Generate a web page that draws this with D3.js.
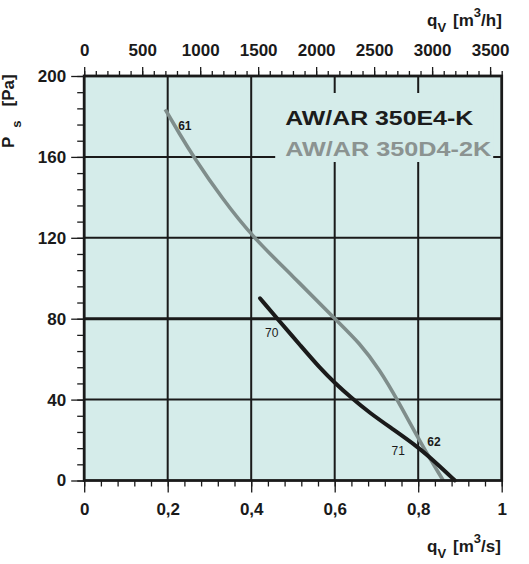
<!DOCTYPE html>
<html>
<head>
<meta charset="utf-8">
<script src="https://cdn.jsdelivr.net/npm/d3@7"></script>
<style>
    body { margin: 0; background: #fff; }
    text { font-family: "Liberation Sans", Arial, sans-serif; font-weight: bold; fill: #1a1a1a; }
</style>
</head>
<body>
<script>
// curve AW/AR 350E4-K (black)
let blackQ = [0.421, 0.465, 0.517, 0.565, 0.601, 0.637, 0.685, 0.740, 0.800, 0.844, 0.888];
let blackP = [90.1, 79.4, 67.0, 55.5, 48.1, 41.4, 33.2, 25.3, 16.5, 8.5, 0];

// curve AW/AR 350D4-2K (grey)
let greyQ = [0.194, 0.228, 0.262, 0.330, 0.405, 0.500, 0.600, 0.661, 0.708, 0.750, 0.810, 0.860];
let greyP = [183.5, 171.5, 160.0, 139.5, 120.0, 101.0, 80.0, 67.8, 54.6, 40.0, 17.0, 0];

let legendNames = ["AW/AR 350E4-K", "AW/AR 350D4-2K"];

// small numbers on the curves
let pointText = ["61", "70", "71", "62"];
let pointQ = [0.241, 0.449, 0.752, 0.838];
let pointP = [175.3, 72.7, 14.7, 19.2];

let xTicks = [0, 0.2, 0.4, 0.6, 0.8, 1];
let yTicks = [0, 40, 80, 120, 160, 200];
let topTicks = [0, 500, 1000, 1500, 2000, 2500, 3000, 3500];

let margin = {top: 76, left: 84.2},
    width = 417.5,
    height = 404.5;

let x = d3.scaleLinear().domain([0, 1]).range([0, width]);
let xh = d3.scaleLinear().domain([0, 3600]).range([0, width]);
let y = d3.scaleLinear().domain([0, 200]).range([height, 0]);

let svg = d3.select("body").append("svg")
    .attr("width", 529)
    .attr("height", 564);

let g = svg.append("g")
    .attr("transform", "translate(" + margin.left + "," + margin.top + ")");

g.append("rect")
    .attr("width", width)
    .attr("height", height)
    .attr("fill", "#d5ecea");

// grid
g.selectAll("line.vgrid").data(xTicks.slice(1, -1)).enter().append("line")
    .attr("x1", d => x(d)).attr("x2", d => x(d))
    .attr("y1", 0).attr("y2", height)
    .attr("stroke", "#1a1a1a").attr("stroke-width", 2);

g.selectAll("line.hgrid").data(yTicks.slice(1, -1)).enter().append("line")
    .attr("x1", 0).attr("x2", width)
    .attr("y1", d => y(d)).attr("y2", d => y(d))
    .attr("stroke", "#1a1a1a").attr("stroke-width", d => d == 80 ? 3 : 2);

// legend box hides grid behind it
g.append("rect")
    .attr("x", 191).attr("y", 17)
    .attr("width", 218).attr("height", 69)
    .attr("fill", "#d5ecea");

g.append("text")
    .attr("x", 201).attr("y", 49)
    .attr("font-size", 21)
    .attr("textLength", 188).attr("lengthAdjust", "spacingAndGlyphs")
    .style("fill", "#1c1c1c")
    .text(legendNames[0]);

g.append("text")
    .attr("x", 201).attr("y", 80)
    .attr("font-size", 21)
    .attr("textLength", 206).attr("lengthAdjust", "spacingAndGlyphs")
    .style("fill", "#8b9391")
    .text(legendNames[1]);

// curves (basis spline smooths the read-off points)
let line = d3.line()
    .x(d => x(d[0]))
    .y(d => y(d[1]))
    .curve(d3.curveBasis);

g.append("path")
    .datum(greyQ.map((q, i) => [q, greyP[i]]))
    .attr("d", line)
    .attr("fill", "none")
    .attr("stroke", "#7f8d8b")
    .attr("stroke-width", 3.6);

g.append("path")
    .datum(blackQ.map((q, i) => [q, blackP[i]]))
    .attr("d", line)
    .attr("fill", "none")
    .attr("stroke", "#1a1a1a")
    .attr("stroke-width", 4)
    .attr("stroke-linecap", "round");

g.selectAll("text.pt").data(pointText).enter().append("text")
    .attr("x", (d, i) => x(pointQ[i]))
    .attr("y", (d, i) => y(pointP[i]))
    .attr("text-anchor", "middle")
    .attr("dominant-baseline", "central")
    .attr("font-size", 12)
    .style("font-weight", (d, i) => (i == 0 || i == 3) ? "bold" : "normal")
    .text(d => d);

// border
g.append("rect")
    .attr("width", width)
    .attr("height", height)
    .attr("fill", "none")
    .attr("stroke", "#1a1a1a")
    .attr("stroke-width", 2.8);

// axes
let xAxis = d3.axisBottom(x).tickValues(xTicks).tickSize(12).tickPadding(10)
    .tickFormat(d => String(d).replace(".", ","));
let xMinor = d3.axisBottom(x).tickValues(d3.range(0, 1.0001, 0.04)).tickSize(6).tickFormat("");
let yAxis = d3.axisLeft(y).tickValues(yTicks).tickSize(13).tickPadding(5);
let yMinor = d3.axisLeft(y).tickValues(d3.range(0, 200.1, 8)).tickSize(7).tickFormat("");
let topAxis = d3.axisTop(xh).tickValues(topTicks).tickSize(9).tickPadding(11).tickFormat(d3.format("d"));
let topMinor = d3.axisTop(xh).tickValues(d3.range(0, 3601, 100)).tickSize(5).tickFormat("");

function styleAxis(sel) {
    sel.select(".domain").remove();
    sel.selectAll("line").attr("stroke", "#1a1a1a").attr("stroke-width", 1.3);
    sel.selectAll("text").attr("font-size", 17).attr("fill", "#1a1a1a")
        .style("font-family", "'Liberation Sans', Arial, sans-serif");
}

g.append("g").attr("transform", "translate(0," + height + ")").call(xMinor).call(styleAxis);
g.append("g").attr("transform", "translate(0," + height + ")").call(xAxis).call(styleAxis);
g.append("g").call(yMinor).call(styleAxis);
g.append("g").call(yAxis).call(styleAxis);
g.append("g").call(topMinor).call(styleAxis);
g.append("g").call(topAxis).call(styleAxis);

// axis titles
function unitTitle(xp, yp, unit) {
    let t = svg.append("text").attr("x", xp).attr("y", yp).attr("font-size", 17);
    t.append("tspan").text("q");
    t.append("tspan").attr("font-size", 13).attr("dy", 6).text("V");
    t.append("tspan").attr("dx", 7).attr("dy", -6).text("[m");
    t.append("tspan").attr("font-size", 13).attr("dy", -9).text("3");
    t.append("tspan").attr("dy", 9).text("/" + unit + "]");
}
unitTitle(427, 26, "h");
unitTitle(427, 552, "s");

let yTitle = svg.append("text")
    .attr("transform", "translate(14,148) rotate(-90)")
    .attr("font-size", 17);
yTitle.append("tspan").text("P");
yTitle.append("tspan").attr("font-size", 13).attr("dx", 9).attr("dy", 7).text("s");
yTitle.append("tspan").attr("dx", 14).attr("dy", -7).text("[Pa]");
</script>
</body>
</html>
